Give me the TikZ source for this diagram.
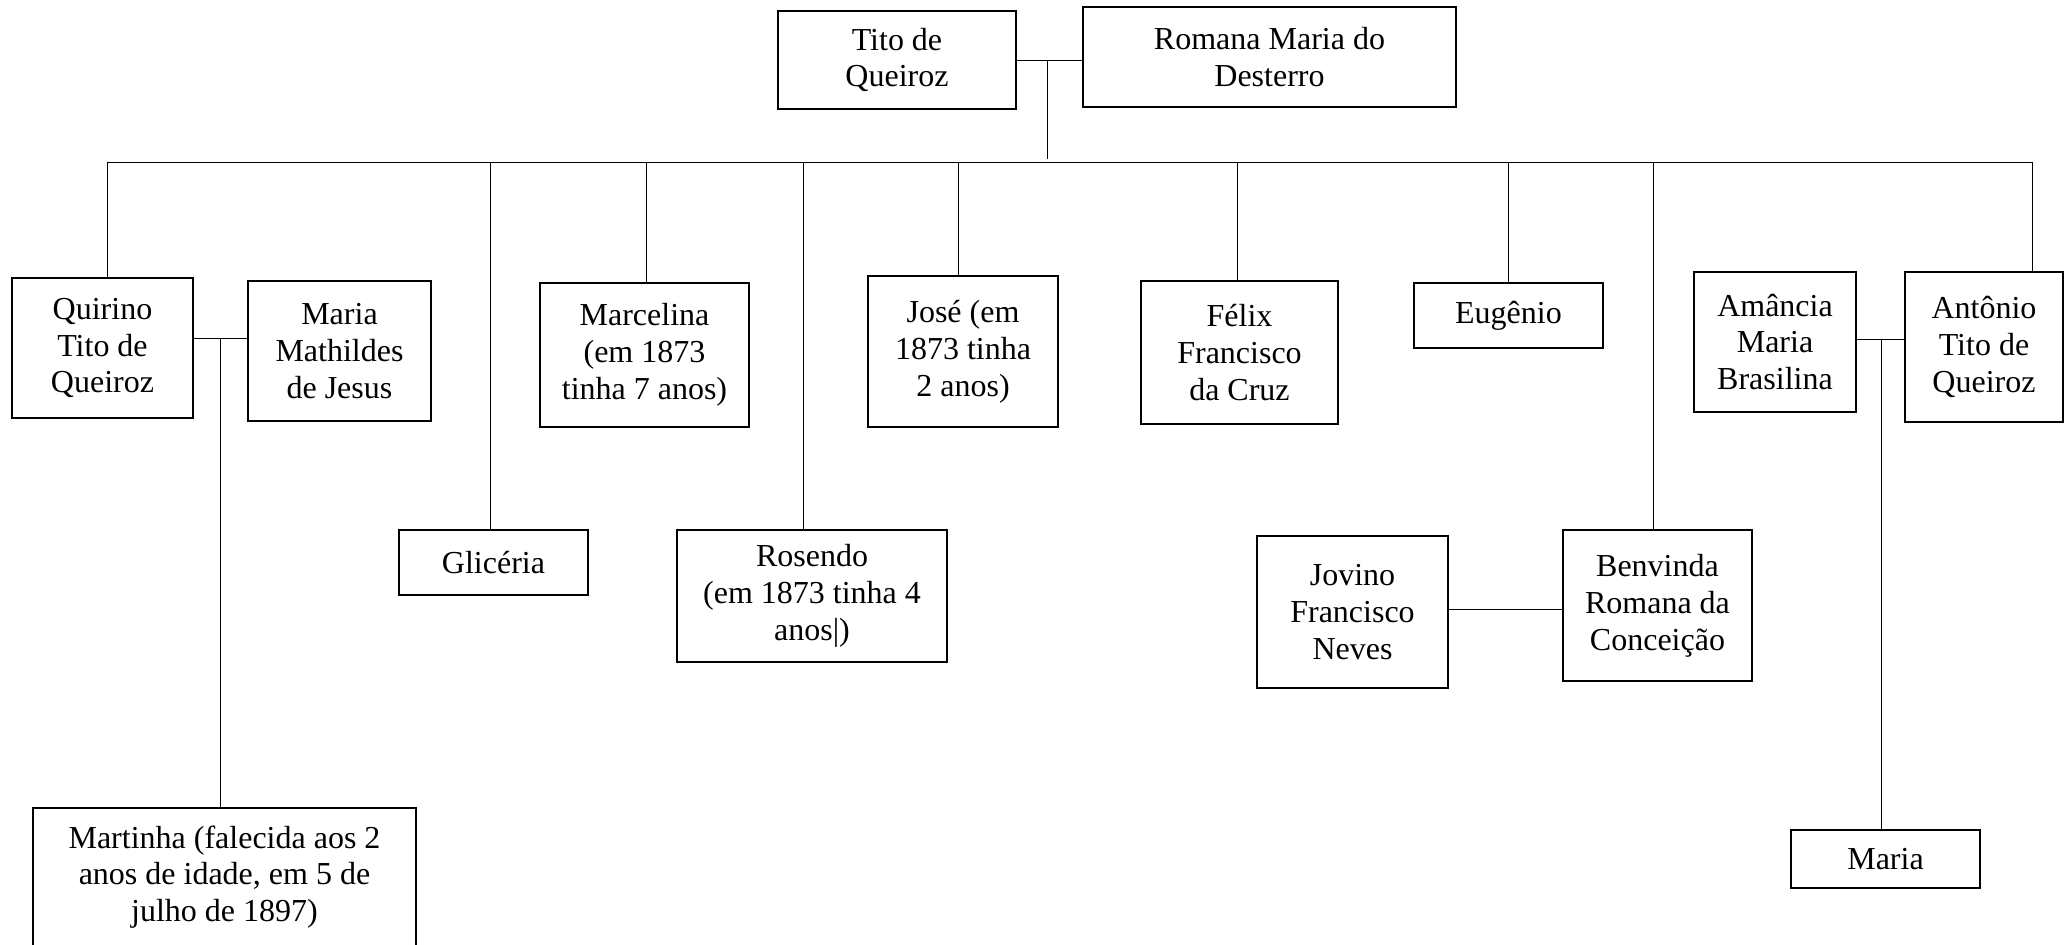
\documentclass[tikz,border=0pt]{standalone}
\usepackage{fontspec}
\setmainfont{Liberation Serif}
\usetikzlibrary{positioning}

\begin{document}
\begin{tikzpicture}[x=0.5pt,y=-0.5pt,line width=0.5pt,
  person/.style={draw, line width=1.1pt, align=center, inner sep=0pt,
    font=\fontsize{16}{18.4}\selectfont},
  link/.style={line width=0.5pt}]
  \useasboundingbox (0,0) rectangle (2069,944);
  \clip (0,0) rectangle (2069,944);
  % parents
  \node[person, minimum width=119pt, minimum height=49pt]   (tito)   at (897,60)    {Tito de\\Queiroz};
  \node[person, minimum width=186.5pt, minimum height=50pt] (romana) at (1269.5,57) {Romana Maria do\\Desterro};
  % children
  \node[person, minimum width=90.5pt, minimum height=70pt]  (quirino)   at (102.5,348)  {Quirino\\Tito de\\Queiroz};
  \node[person, minimum width=91.5pt, minimum height=70pt]  (mathildes) at (339.5,351)  {Maria\\Mathildes\\de Jesus};
  \node[person, minimum width=94.5pt, minimum height=32.5pt] (glice)    at (493.5,562.5) {Glicéria};
  \node[person, minimum width=104.5pt, minimum height=72pt] (marcelina) at (644.5,355)  {Marcelina\\(em 1873\\tinha 7 anos)};
  \node[person, minimum width=135pt, minimum height=66pt]   (rosendo)   at (812,596)    {Rosendo\\(em 1873 tinha 4\\anos|)};
  \node[person, minimum width=95pt, minimum height=75.5pt]  (jose)      at (963,351.5)  {José (em\\1873 tinha\\2 anos)};
  \node[person, minimum width=98.5pt, minimum height=71.5pt] (felix)    at (1239.5,352.5) {Félix\\Francisco\\da Cruz};
  \node[person, minimum width=94.5pt, minimum height=32.5pt] (eugenio)  at (1508.5,315.5) {Eugênio};
  \node[person, minimum width=95.5pt, minimum height=76pt]  (jovino)    at (1352.5,612) {Jovino\\Francisco\\Neves};
  \node[person, minimum width=94.5pt, minimum height=75.5pt] (benvinda) at (1657.5,605.5) {Benvinda\\Romana da\\Conceição};
  \node[person, minimum width=81pt, minimum height=70pt]    (amancia)   at (1775,342)   {Amância\\Maria\\Brasilina};
  \node[person, minimum width=79pt, minimum height=75pt]    (antonio)   at (1984,347)   {Antônio\\Tito de\\Queiroz};
  % grandchildren
  \node[person, minimum width=191.5pt, minimum height=69pt] (martinha)  at (224.5,877)  {Martinha (falecida aos 2\\anos de idade, em 5 de\\julho de 1897)};
  \node[person, minimum width=94.5pt, minimum height=29pt]  (maria)     at (1885.5,859) {Maria};

  \coordinate (tr)   at (1047,60);
  \coordinate (barL) at (107,162);
  \coordinate (barR) at (2032,162);
  \coordinate (qm)   at (220,338);
  \coordinate (am)   at (1881,339);
  \coordinate (jb)   at (1505,609);

  \draw[link] (tito.east) -- (tito.east -| romana.west);
  \draw[link] (tr) -- ([yshift=1.5pt]tr |- barL);
  \draw[link] (barL) -- (barR);
  \draw[link] (barL) -- (barL |- quirino.north);
  \foreach \x/\n in {490/glice, 646/marcelina, 803/rosendo, 958/jose, 1237/felix, 1508/eugenio, 1653/benvinda}
    \draw[link] (barL -| \x,0) -- (\n.north -| \x,0);
  \draw[link] (barR) -- (barR |- antonio.north);

  \draw[link] (quirino.east |- qm) -- (mathildes.west |- qm);
  \draw[link] (qm) -- (qm |- martinha.north);
  \draw[link] (amancia.east |- am) -- (antonio.west |- am);
  \draw[link] (am) -- (am |- maria.north);
  \draw[link] (jovino.east |- jb) -- (benvinda.west |- jb);
\end{tikzpicture}
\end{document}
